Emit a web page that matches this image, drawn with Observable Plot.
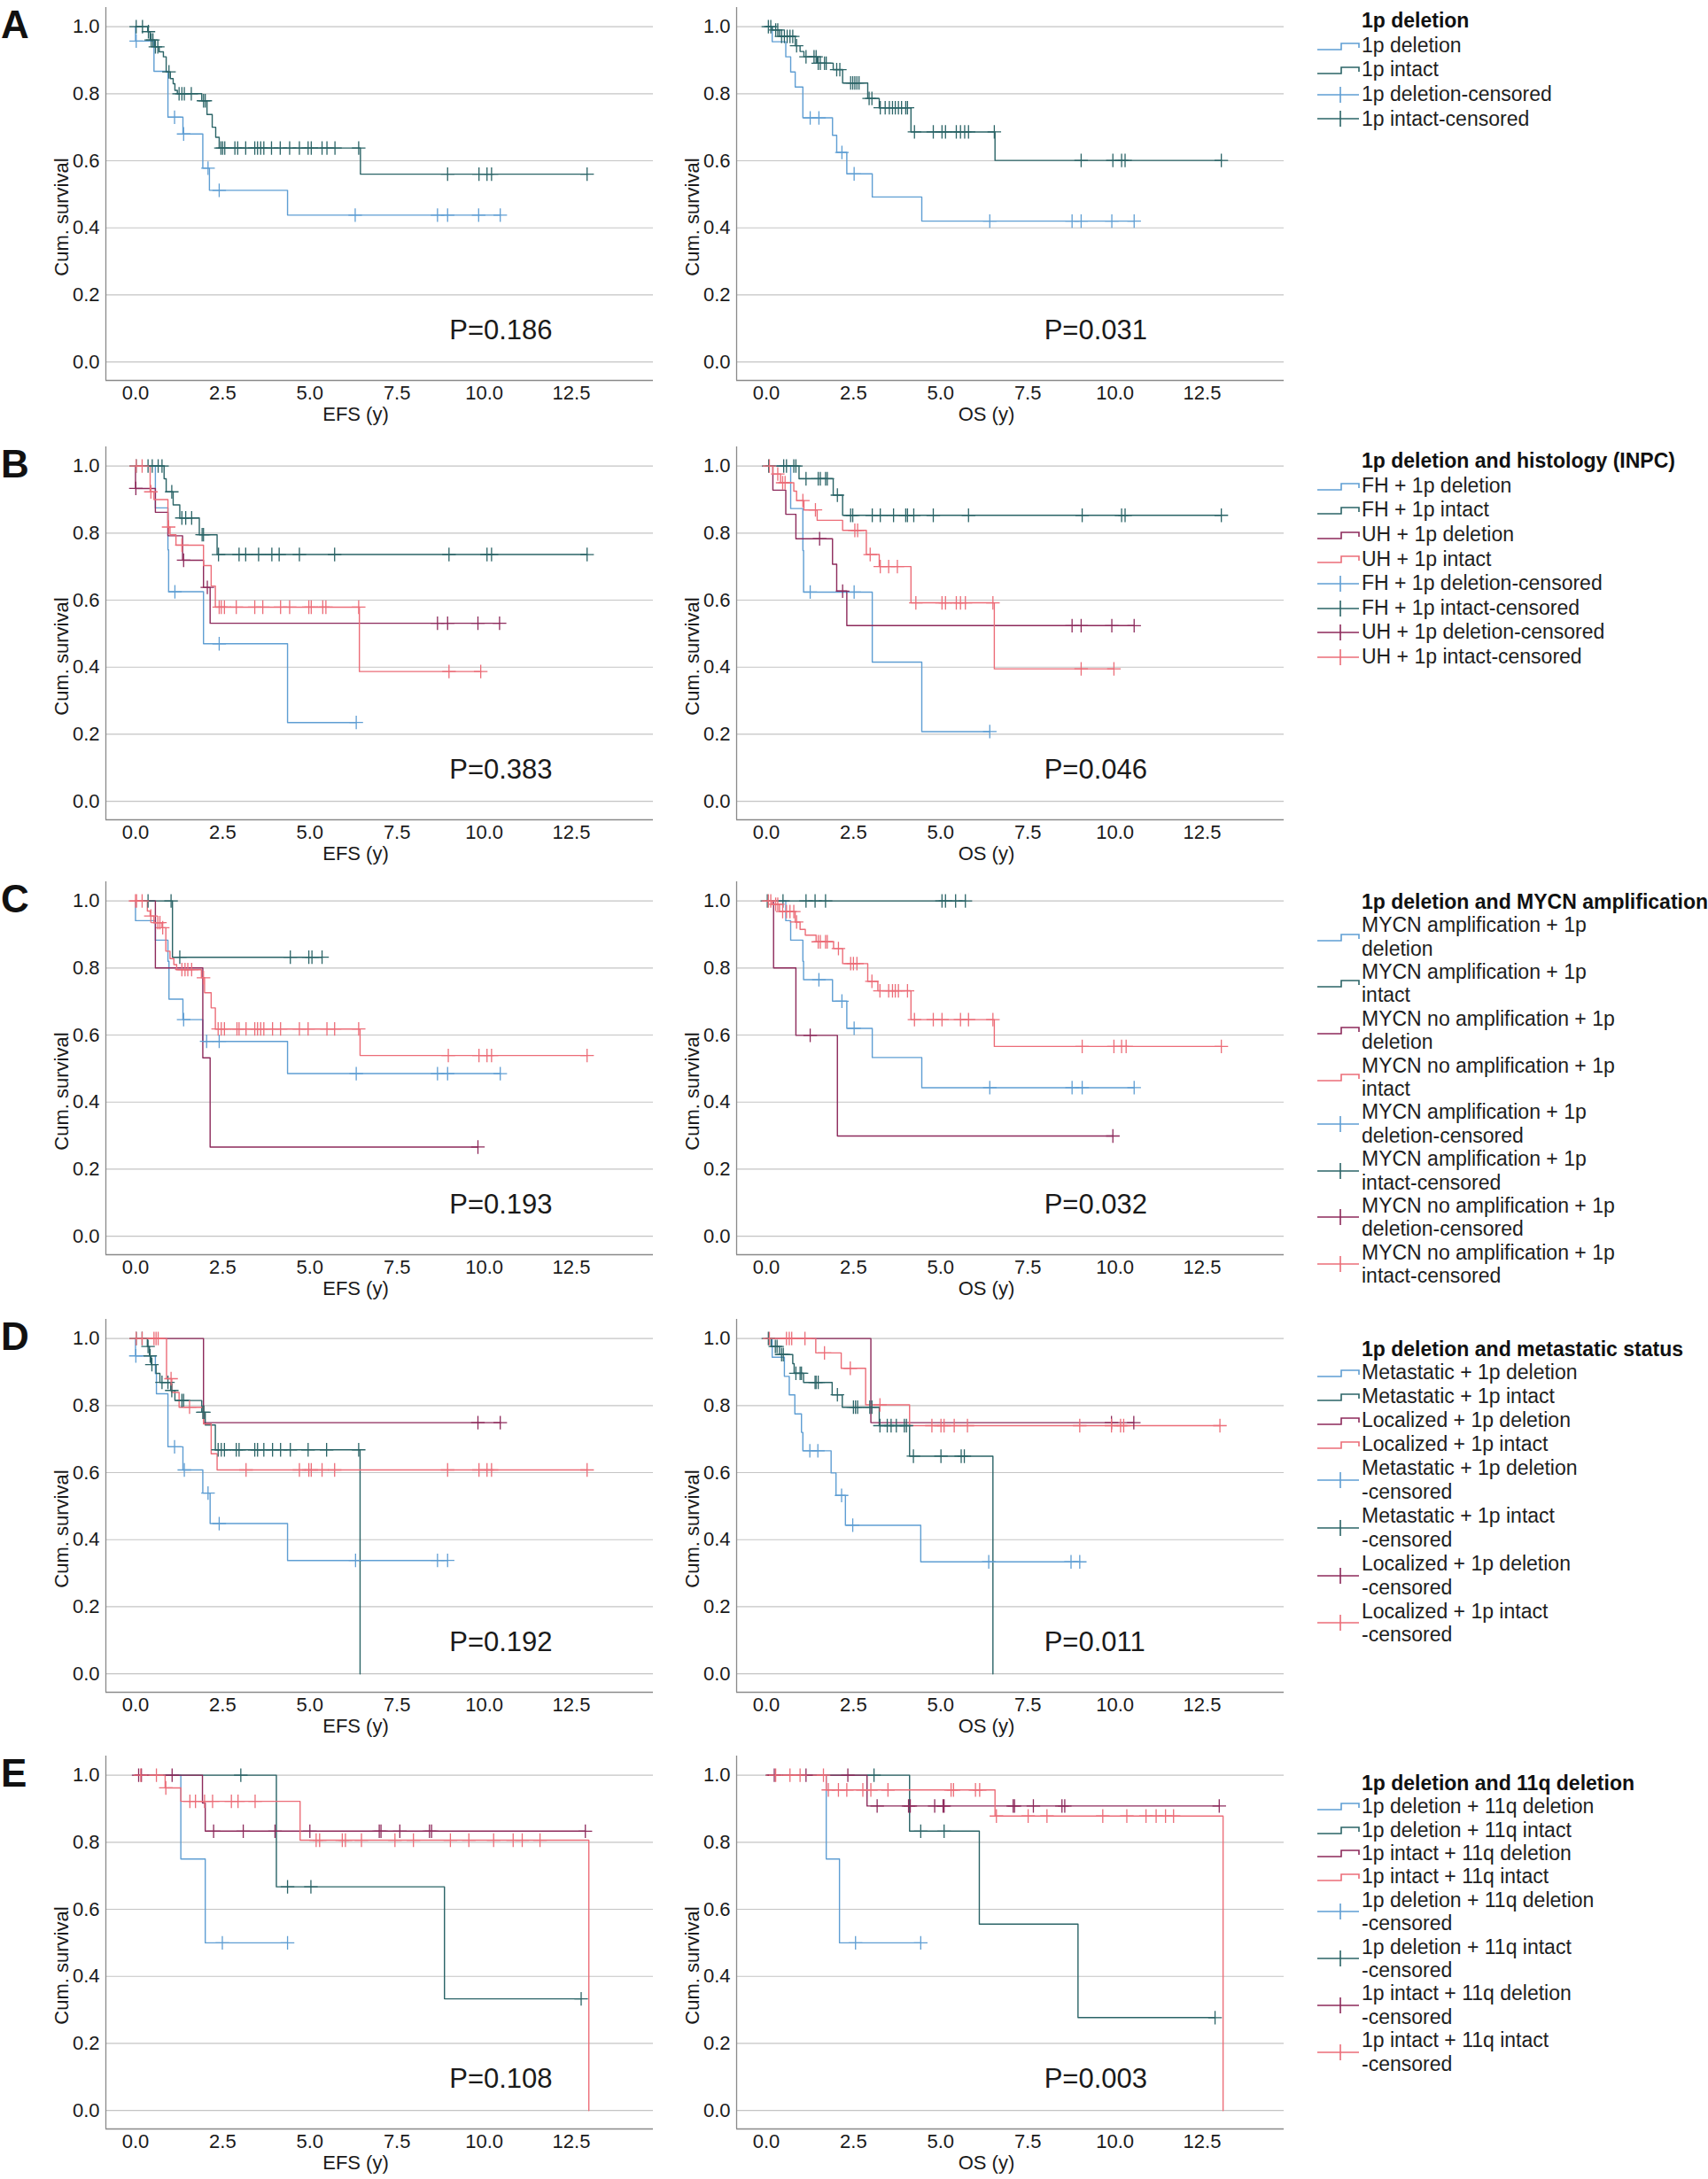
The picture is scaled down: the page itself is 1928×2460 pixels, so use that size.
<!DOCTYPE html>
<html>
<head>
<meta charset="utf-8">
<script src="https://cdn.jsdelivr.net/npm/d3@7"></script>
<script src="https://cdn.jsdelivr.net/npm/@observablehq/plot@0.6"></script>
<style>
  html, body { margin: 0; padding: 0; background: #fff; }
  #page { position: relative; width: 1928px; height: 2460px; overflow: hidden; background: #fff;
          font-family: "Liberation Sans", Arial, Helvetica, sans-serif; color: #1a1a1a; }
  .panel { position: absolute; }
  .letter { position: absolute; left: 1px; font-size: 44px; line-height: 44px; font-weight: bold; color: #111; }
  .legend { position: absolute; left: 1486px; font-size: 23px; color: #1e1e1e; }
  .legend .title { padding-left: 51px; font-weight: bold; color: #111; white-space: nowrap; }
  .legend .item { display: flex; align-items: center; white-space: nowrap; }
  .legend .sym { width: 51px; flex: none; display: flex; align-items: center; }
</style>
</head>
<body>
<div id="page"></div>
<script>
// ---------- colours ----------
const blue = "#5f9ed3", teal = "#2b6467", maroon = "#8d2a5b", salmon = "#ec6d78";

// ---------- axes ----------
const xTicks = [0, 2.5, 5, 7.5, 10, 12.5];
const yTicks = [0, 0.2, 0.4, 0.6, 0.8, 1.0];
const xDomain = [-0.85, 14.85];
const yDomain = [-0.055, 1.057];

// ---------- P values ----------
const pEFS = ["P=0.186", "P=0.383", "P=0.193", "P=0.192", "P=0.108"];
const pOS  = ["P=0.031", "P=0.046", "P=0.032", "P=0.011", "P=0.003"];
const pTextX = [9.0, 7.97];   // EFS, OS panels
const pTextY = 0.093;

// ---------- A: 1p deletion ----------
const A_efs_del_ev = [[0.0,0.957],[0.53,0.867],[0.93,0.73],[1.36,0.68],[1.93,0.578],[2.12,0.512],[4.36,0.438]];
const A_efs_del_cens = [0.02,1.12,1.38,2.08,2.4,6.3,8.66,8.95,9.84,10.46];
const A_efs_int_ev = [[0.35,0.985],[0.42,0.96],[0.55,0.94],[0.68,0.925],[0.8,0.91],[0.88,0.865],[1.0,0.845],[1.08,0.83],[1.13,0.81],[1.2,0.80],[1.9,0.779],[2.05,0.738],[2.2,0.70],[2.3,0.67],[2.4,0.638],[6.45,0.56]];
const A_efs_int_cens = [0.02,0.2,0.37,0.45,0.5,0.57,0.64,0.96,1.25,1.33,1.4,1.6,1.95,2.0,2.45,2.5,2.56,2.85,2.93,3.16,3.42,3.5,3.59,3.68,3.9,4.15,4.42,4.7,4.95,5.04,5.35,5.49,5.72,6.4,8.95,9.85,10.08,10.21,12.95];
const A_os_del_ev = [[0.17,0.955],[0.56,0.91],[0.7,0.865],[0.83,0.82],[1.05,0.728],[1.9,0.676],[2.02,0.625],[2.31,0.561],[3.04,0.492],[4.46,0.42]];
const A_os_del_cens = [1.26,1.51,2.17,2.52,6.41,8.77,9.03,9.91,10.55];
const A_os_int_ev = [[0.17,0.99],[0.38,0.971],[0.83,0.943],[0.97,0.926],[1.08,0.91],[1.46,0.891],[1.92,0.872],[2.19,0.832],[2.91,0.786],[3.24,0.758],[4.15,0.686],[6.56,0.601]];
const A_os_int_cens = [0.06,0.13,0.27,0.33,0.44,0.52,0.6,0.68,0.76,0.87,1.14,1.37,1.43,1.49,1.55,1.67,1.72,2.02,2.11,2.42,2.48,2.54,2.6,2.66,2.95,3.03,3.27,3.41,3.53,3.62,3.7,3.79,3.88,4.0,4.05,4.25,4.79,5.04,5.14,5.45,5.57,5.69,5.8,6.54,9.03,9.94,10.19,10.29,13.05];

// ---------- B: 1p deletion and histology ----------
const B_efs_fhdel_ev = [[0.57,0.875],[0.93,0.75],[0.95,0.625],[1.95,0.47],[4.36,0.235]];
const B_efs_fhdel_cens = [1.13,2.4,6.33];
const B_efs_fhint_ev = [[0.82,0.962],[0.88,0.923],[1.08,0.884],[1.27,0.845],[1.83,0.795],[2.34,0.736]];
const B_efs_fhint_cens = [0.02,0.36,0.48,0.65,0.76,1.04,1.33,1.44,1.61,1.91,1.95,2.38,2.97,3.16,3.53,3.91,4.12,4.7,5.71,8.99,10.08,10.21,12.95];
const B_efs_uhdel_ev = [[0.0,0.933],[0.57,0.862],[0.93,0.792],[1.35,0.719],[1.95,0.638],[2.14,0.531]];
const B_efs_uhdel_cens = [0.01,1.38,2.06,8.66,8.95,9.82,10.44];
const B_efs_uhint_ev = [[0.42,0.923],[0.53,0.90],[0.93,0.818],[0.99,0.795],[1.16,0.764],[1.95,0.703],[2.17,0.642],[2.29,0.579],[6.42,0.387]];
const B_efs_uhint_cens = [0.02,0.19,0.44,0.95,1.33,2.4,2.46,2.55,2.89,3.42,3.65,4.16,4.42,4.97,5.04,5.37,5.46,6.4,8.99,9.9];
const B_os_fhdel_ev = [[0.7,0.873],[1.05,0.748],[1.07,0.624],[3.04,0.415],[4.46,0.208]];
const B_os_fhdel_cens = [1.26,2.52,6.41];
const B_os_fhint_ev = [[0.94,0.962],[1.92,0.913],[2.19,0.853]];
const B_os_fhint_cens = [0.07,0.5,0.58,0.79,0.85,1.14,1.49,1.55,1.7,1.75,2.04,2.42,2.48,3.04,3.27,3.65,4.0,4.05,4.23,4.79,5.8,9.06,10.19,10.29,13.05];
const B_os_uhdel_ev = [[0.19,0.928],[0.56,0.856],[0.85,0.783],[1.9,0.707],[2.02,0.627],[2.31,0.524]];
const B_os_uhdel_cens = [1.53,2.19,8.77,9.03,9.91,10.55];
const B_os_uhint_ev = [[0.19,0.976],[0.41,0.95],[0.79,0.925],[0.87,0.897],[1.08,0.869],[1.46,0.838],[2.19,0.808],[2.87,0.736],[3.24,0.70],[4.15,0.592],[6.54,0.395]];
const B_os_uhint_cens = [0.09,0.33,0.47,0.54,1.05,1.41,2.54,2.62,2.98,3.27,3.51,3.76,4.29,5.04,5.14,5.45,5.57,5.71,6.5,9.03,9.97];

// ---------- C: 1p deletion and MYCN amplification ----------
const C_efs_ampdel_ev = [[0.0,0.941],[0.57,0.883],[0.93,0.82],[0.96,0.707],[1.36,0.646],[1.93,0.581],[4.36,0.485]];
const C_efs_ampdel_cens = [1.38,2.04,2.4,6.33,8.66,8.95,10.46];
const C_efs_ampint_ev = [[1.06,0.832]];
const C_efs_ampint_cens = [0.36,1.02,1.27,4.44,4.97,5.06,5.35];
const C_efs_noampdel_ev = [[0.57,0.80],[1.93,0.532],[2.14,0.266]];
const C_efs_noampdel_cens = [9.82];
const C_efs_noampint_ev = [[0.34,0.97],[0.42,0.955],[0.53,0.935],[0.76,0.92],[0.87,0.85],[0.99,0.828],[1.1,0.81],[1.18,0.795],[1.89,0.771],[1.98,0.726],[2.17,0.681],[2.29,0.618],[6.44,0.539]];
const C_efs_noampint_cens = [0.0,0.03,0.19,0.44,0.64,0.7,0.78,1.33,1.42,1.5,1.61,1.95,2.37,2.46,2.55,2.91,2.97,3.17,3.42,3.5,3.59,3.68,3.93,4.16,4.7,4.95,5.49,5.71,6.4,8.97,9.85,10.08,10.21,12.95];
const C_os_ampdel_ev = [[0.56,0.941],[0.7,0.883],[1.05,0.82],[1.07,0.765],[1.9,0.701],[2.31,0.62],[3.04,0.533],[4.46,0.443]];
const C_os_ampdel_cens = [1.51,2.17,2.52,6.41,8.77,9.06,10.55];
const C_os_ampint_ev = [];
const C_os_ampint_cens = [0.03,0.48,1.14,1.4,1.7,5.04,5.14,5.43,5.71];
const C_os_noampdel_ev = [[0.21,0.80],[0.85,0.599],[2.04,0.299]];
const C_os_noampdel_cens = [1.26,9.94];
const C_os_noampint_ev = [[0.17,0.99],[0.38,0.968],[0.83,0.937],[0.97,0.915],[1.12,0.898],[1.43,0.878],[1.93,0.858],[2.19,0.813],[2.91,0.76],[3.2,0.732],[4.15,0.646],[6.54,0.566]];
const C_os_noampint_cens = [0.06,0.13,0.27,0.33,0.47,0.58,0.68,0.79,0.87,1.49,1.55,1.7,1.75,2.07,2.42,2.5,2.6,3.03,3.26,3.51,3.62,3.7,3.79,4.05,4.25,4.79,5.04,5.57,5.8,6.5,9.06,9.97,10.19,10.32,13.05];

// ---------- D: 1p deletion and metastatic status ----------
const D_efs_metdel_ev = [[0.0,0.948],[0.57,0.895],[0.6,0.835],[0.93,0.677],[1.36,0.608],[1.93,0.539],[2.14,0.448],[4.36,0.338]];
const D_efs_metdel_cens = [0.01,1.12,1.4,2.08,2.4,6.31,8.66,8.95];
const D_efs_metint_ev = [[0.34,0.976],[0.40,0.948],[0.45,0.922],[0.59,0.896],[0.70,0.869],[1.01,0.845],[1.13,0.815],[1.9,0.78],[2.0,0.742],[2.29,0.668],[6.44,0]];
const D_efs_metint_cens = [0.02,0.19,0.36,0.42,0.47,0.76,0.93,1.04,1.33,1.38,1.93,1.96,2.37,2.46,2.55,2.89,2.97,3.42,3.5,3.68,3.93,4.16,4.44,4.95,5.48,6.4];
const D_efs_locdel_ev = [[1.95,0.749]];
const D_efs_locdel_cens = [9.82,10.46];
const D_efs_locint_ev = [[0.89,0.88],[1.04,0.839],[1.25,0.795],[1.95,0.745],[2.17,0.656],[2.34,0.608]];
const D_efs_locint_cens = [0.02,0.19,0.53,0.59,0.65,1.02,1.55,3.17,4.7,4.97,5.04,5.35,5.71,8.95,9.85,10.08,10.21,12.95];
const D_os_metdel_ev = [[0.17,0.944],[0.52,0.887],[0.66,0.832],[0.82,0.775],[1.01,0.72],[1.05,0.665],[1.86,0.599],[2.0,0.532],[2.27,0.443],[4.43,0.334]];
const D_os_metdel_cens = [1.25,1.48,2.16,2.48,6.38,8.74,8.99];
const D_os_metint_ev = [[0.14,0.976],[0.38,0.952],[0.76,0.925],[0.8,0.896],[1.07,0.869],[1.89,0.832],[2.18,0.795],[3.24,0.74],[4.11,0.649],[6.5,0]];
const D_os_metint_cens = [0.06,0.26,0.31,0.44,0.49,0.85,0.97,1.01,1.4,1.43,1.49,2.04,2.5,2.56,2.62,2.97,3.03,3.26,3.47,3.58,3.73,3.96,4.02,4.22,5.01,5.59,5.68];
const D_os_locdel_ev = [[3.0,0.749]];
const D_os_locdel_cens = [9.9,10.54];
const D_os_locint_ev = [[1.42,0.957],[2.15,0.911],[2.85,0.802],[4.11,0.74]];
const D_os_locint_cens = [0.09,0.58,0.66,0.73,1.11,1.67,2.41,3.26,4.75,5.01,5.1,5.39,5.77,8.99,9.9,10.16,10.25,13.01];

// ---------- E: 1p deletion and 11q deletion ----------
const E_efs_dd_ev = [[1.3,0.75],[2.0,0.5]];
const E_efs_dd_cens = [2.49,4.36];
const E_efs_di_ev = [[4.04,0.667],[8.86,0.333]];
const E_efs_di_cens = [3.02,4.36,5.03,12.78];
const E_efs_id_ev = [[1.92,0.917],[2.0,0.833]];
const E_efs_id_cens = [0.09,0.17,1.05,2.24,3.09,4.0,5.0,6.99,7.04,7.58,8.43,8.49,12.9];
const E_efs_ii_ev = [[0.85,0.962],[1.3,0.922],[4.72,0.806],[13.0,0]];
const E_efs_ii_cens = [0.15,0.6,0.87,1.56,1.72,1.98,2.21,2.75,2.94,3.43,5.18,5.28,5.93,6.02,6.48,7.44,7.97,9.03,9.56,10.27,10.83,11.09,11.6];
const E_os_dd_ev = [[1.72,0.75],[2.1,0.5]];
const E_os_dd_cens = [2.56,4.43];
const E_os_di_ev = [[4.11,0.833],[6.11,0.556],[8.94,0.277]];
const E_os_di_cens = [3.09,4.43,5.1,12.87];
const E_os_id_ev = [[2.89,0.908]];
const E_os_id_cens = [0.23,1.14,2.34,3.18,4.08,4.13,4.83,5.07,5.1,7.08,7.12,7.66,8.48,8.56,12.99];
const E_os_ii_ev = [[1.72,0.956],[6.56,0.878],[13.1,0]];
const E_os_ii_cens = [0.27,0.68,0.97,1.64,1.78,2.07,2.31,2.77,3.0,3.49,5.3,5.37,6.0,6.12,6.6,7.51,8.05,9.65,10.34,10.89,11.18,11.45,11.68];

// ---------- legends ----------
const legATitle = "1p deletion";
const legALabels = ["1p deletion","1p intact","1p deletion-censored","1p intact-censored"];
const legBTitle = "1p deletion and histology (INPC)";
const legBLabels = ["FH + 1p deletion","FH + 1p intact","UH + 1p deletion","UH + 1p intact","FH + 1p deletion-censored","FH + 1p intact-censored","UH + 1p deletion-censored","UH + 1p intact-censored"];
const legCTitle = "1p deletion and MYCN amplification";
const legCLabels = ["MYCN amplification + 1p\ndeletion","MYCN amplification + 1p\nintact","MYCN no amplification + 1p\ndeletion","MYCN no amplification + 1p\nintact","MYCN amplification + 1p\ndeletion-censored","MYCN amplification + 1p\nintact-censored","MYCN no amplification + 1p\ndeletion-censored","MYCN no amplification + 1p\nintact-censored"];
const legDTitle = "1p deletion and metastatic status";
const legDLabels = ["Metastatic + 1p deletion","Metastatic + 1p intact","Localized + 1p deletion","Localized + 1p intact","Metastatic + 1p deletion\n-censored","Metastatic + 1p intact\n-censored","Localized + 1p deletion\n-censored","Localized + 1p intact\n-censored"];
const legETitle = "1p deletion and 11q deletion";
const legELabels = ["1p deletion + 11q deletion","1p deletion + 11q intact","1p intact + 11q deletion","1p intact + 11q intact","1p deletion + 11q deletion\n-censored","1p deletion + 11q intact\n-censored","1p intact + 11q deletion\n-censored","1p intact + 11q intact\n-censored"];
const panelLetters = ["A","B","C","D","E"];

// ---------- layout ----------
const rowTops = [0, 496, 987, 1481, 1974];
const colLefts = [39, 751];
const legendTitleCenters = [24, 521, 1018, 1523, 2013];
const legendLineHeights = [27.6, 27.6, 26.4, 26.9, 26.4];

const panels = [
  {row:0, col:0, xlabel:"EFS (y)", p:pEFS[0], series:[[A_efs_del_ev,A_efs_del_cens,blue],[A_efs_int_ev,A_efs_int_cens,teal]]},
  {row:0, col:1, xlabel:"OS (y)",  p:pOS[0],  series:[[A_os_del_ev,A_os_del_cens,blue],[A_os_int_ev,A_os_int_cens,teal]]},
  {row:1, col:0, xlabel:"EFS (y)", p:pEFS[1], series:[[B_efs_fhdel_ev,B_efs_fhdel_cens,blue],[B_efs_fhint_ev,B_efs_fhint_cens,teal],[B_efs_uhdel_ev,B_efs_uhdel_cens,maroon],[B_efs_uhint_ev,B_efs_uhint_cens,salmon]]},
  {row:1, col:1, xlabel:"OS (y)",  p:pOS[1],  series:[[B_os_fhdel_ev,B_os_fhdel_cens,blue],[B_os_fhint_ev,B_os_fhint_cens,teal],[B_os_uhdel_ev,B_os_uhdel_cens,maroon],[B_os_uhint_ev,B_os_uhint_cens,salmon]]},
  {row:2, col:0, xlabel:"EFS (y)", p:pEFS[2], series:[[C_efs_ampdel_ev,C_efs_ampdel_cens,blue],[C_efs_ampint_ev,C_efs_ampint_cens,teal],[C_efs_noampdel_ev,C_efs_noampdel_cens,maroon],[C_efs_noampint_ev,C_efs_noampint_cens,salmon]]},
  {row:2, col:1, xlabel:"OS (y)",  p:pOS[2],  series:[[C_os_ampdel_ev,C_os_ampdel_cens,blue],[C_os_ampint_ev,C_os_ampint_cens,teal],[C_os_noampdel_ev,C_os_noampdel_cens,maroon],[C_os_noampint_ev,C_os_noampint_cens,salmon]]},
  {row:3, col:0, xlabel:"EFS (y)", p:pEFS[3], series:[[D_efs_metdel_ev,D_efs_metdel_cens,blue],[D_efs_metint_ev,D_efs_metint_cens,teal],[D_efs_locdel_ev,D_efs_locdel_cens,maroon],[D_efs_locint_ev,D_efs_locint_cens,salmon]]},
  {row:3, col:1, xlabel:"OS (y)",  p:pOS[3],  series:[[D_os_metdel_ev,D_os_metdel_cens,blue],[D_os_metint_ev,D_os_metint_cens,teal],[D_os_locdel_ev,D_os_locdel_cens,maroon],[D_os_locint_ev,D_os_locint_cens,salmon]]},
  {row:4, col:0, xlabel:"EFS (y)", p:pEFS[4], series:[[E_efs_dd_ev,E_efs_dd_cens,blue],[E_efs_di_ev,E_efs_di_cens,teal],[E_efs_id_ev,E_efs_id_cens,maroon],[E_efs_ii_ev,E_efs_ii_cens,salmon]]},
  {row:4, col:1, xlabel:"OS (y)",  p:pOS[4],  series:[[E_os_dd_ev,E_os_dd_cens,blue],[E_os_di_ev,E_os_di_cens,teal],[E_os_id_ev,E_os_id_cens,maroon],[E_os_ii_ev,E_os_ii_cens,salmon]]}
];

const legends = [
  {title:legATitle, labels:legALabels, colors:[blue,teal,blue,teal]},
  {title:legBTitle, labels:legBLabels, colors:[blue,teal,maroon,salmon,blue,teal,maroon,salmon]},
  {title:legCTitle, labels:legCLabels, colors:[blue,teal,maroon,salmon,blue,teal,maroon,salmon]},
  {title:legDTitle, labels:legDLabels, colors:[blue,teal,maroon,salmon,blue,teal,maroon,salmon]},
  {title:legETitle, labels:legELabels, colors:[blue,teal,maroon,salmon,blue,teal,maroon,salmon]}
];

// ---------- helpers ----------
function kmPath(ev, cens) {
  const pts = [{t: 0, s: 1}];
  for (const [t, s] of ev) pts.push({t, s});
  const lastC = cens.length ? d3.max(cens) : 0;
  const last = pts[pts.length - 1];
  if (lastC > last.t) pts.push({t: lastC, s: last.s});
  return pts;
}
function survAt(ev, t) {
  let s = 1;
  for (const [et, es] of ev) if (et <= t) s = es;
  return s;
}

const page = document.getElementById("page");
const FONT = "'Liberation Sans', Arial, Helvetica, sans-serif";

for (const pn of panels) {
  const marks = [
    Plot.ruleY(yTicks, {stroke: "#c4c4c4", strokeWidth: 1.2}),
    Plot.ruleX([xDomain[0]], {stroke: "#8a8a8a", strokeWidth: 1.3}),
    Plot.ruleY([yDomain[0]], {stroke: "#8a8a8a", strokeWidth: 1.3})
  ];
  for (const [ev, cens, color] of pn.series) {
    marks.push(Plot.line(kmPath(ev, cens), {x: "t", y: "s", curve: "step-after", stroke: color, strokeWidth: 1.4}));
  }
  for (const [ev, cens, color] of pn.series) {
    marks.push(Plot.dot(cens.map(t => ({t, s: survAt(ev, t)})), {x: "t", y: "s", symbol: "plus", r: 5, stroke: color, strokeWidth: 1.3}));
  }
  marks.push(Plot.text([pn.p], {x: pTextX[pn.col], y: pTextY, text: d => d, textAnchor: "start", lineAnchor: "middle", fontSize: 31, fill: "#1a1a1a"}));
  marks.push(Plot.text([pn.xlabel], {frameAnchor: "bottom", text: d => d, textAnchor: "middle", lineAnchor: "middle", dx: -27, dy: 38, fontSize: 22, fill: "#1a1a1a"}));
  marks.push(Plot.text(["Cum. survival"], {frameAnchor: "left", text: d => d, textAnchor: "middle", lineAnchor: "middle", rotate: -90, dx: -50, dy: 26, fontSize: 22, fill: "#1a1a1a"}));

  const svg = Plot.plot({
    width: 700, height: 488,
    marginLeft: 80, marginRight: 2, marginTop: 8, marginBottom: 59,
    x: {domain: xDomain, ticks: xTicks, tickFormat: d3.format(".1f"), tickSize: 0, tickPadding: 6, label: null},
    y: {domain: yDomain, ticks: yTicks, tickFormat: d3.format(".1f"), tickSize: 0, tickPadding: 7, label: null},
    style: {fontFamily: FONT, fontSize: "22px", color: "#1a1a1a", background: "transparent", overflow: "visible"},
    marks
  });
  const div = document.createElement("div");
  div.className = "panel";
  div.style.left = colLefts[pn.col] + "px";
  div.style.top = rowTops[pn.row] + "px";
  div.appendChild(svg);
  page.appendChild(div);
}

// panel letters
panelLetters.forEach((L, i) => {
  const d = document.createElement("div");
  d.className = "letter";
  d.style.top = (rowTops[i] + 6) + "px";
  d.textContent = L;
  page.appendChild(d);
});

// legends
function stepIcon(c) {
  return `<svg width="50" height="20"><path d="M1,14 H28 V7 H48 V12" fill="none" stroke="${c}" stroke-width="1.6"/></svg>`;
}
function censIcon(c) {
  return `<svg width="50" height="22"><path d="M1,11 H48 M27,2 V20" fill="none" stroke="${c}" stroke-width="1.6"/></svg>`;
}
legends.forEach((lg, i) => {
  const lh = legendLineHeights[i];
  const d = document.createElement("div");
  d.className = "legend";
  d.style.top = (legendTitleCenters[i] - lh / 2) + "px";
  d.style.lineHeight = lh + "px";
  let html = `<div class="title">${lg.title}</div>`;
  const n = lg.labels.length / 2;
  lg.labels.forEach((lab, j) => {
    const icon = j < n ? stepIcon(lg.colors[j]) : censIcon(lg.colors[j]);
    html += `<div class="item"><div class="sym">${icon}</div><div>${lab.replace(/\n/g, "<br>")}</div></div>`;
  });
  d.innerHTML = html;
  page.appendChild(d);
});
</script>
</body>
</html>
